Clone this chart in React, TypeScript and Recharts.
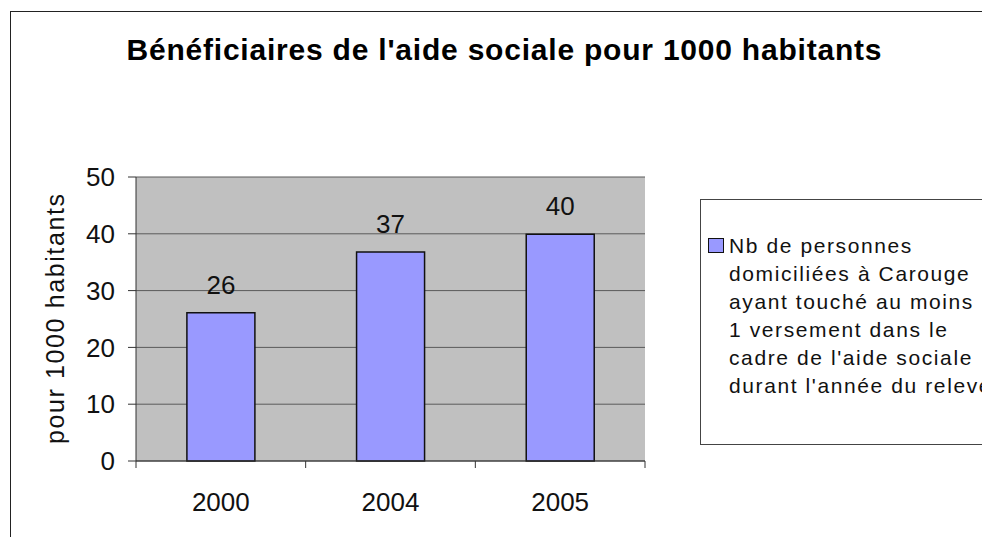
import { BarChart, Bar, XAxis, YAxis, CartesianGrid, Legend, LabelList } from 'recharts';

// values (labels are rounded)
const years = ['2000', '2004', '2005'];
const perThousand = [26.1, 36.8, 39.9];
const yTicks = [0, 10, 20, 30, 40, 50];
const legendLines = [
  'Nb de personnes',
  'domiciliées à Carouge',
  'ayant touché au moins',
  '1 versement dans le',
  "cadre de l'aide sociale",
  "durant l'année du relevé",
];
const title = "Bénéficiaires de l'aide sociale pour 1000 habitants";
const yLabel = 'pour 1000 habitants';

const chartData = years.map((year, i) => ({ year, value: perThousand[i] }));

const FONT = '"Liberation Sans", Arial, Helvetica, sans-serif';
const BAR_COLOR = '#9999ff';

const CategoryTick = (props: any) => {
  const { x, y, payload, index, visibleTicksCount, width } = props;
  const half = width / visibleTicksCount / 2;
  return (
    <g>
      <line x1={x - half} x2={x - half} y1={y} y2={y + 7} stroke="#333" />
      {index === visibleTicksCount - 1 && (
        <line x1={x + half} x2={x + half} y1={y} y2={y + 7} stroke="#333" />
      )}
      <text x={x} y={y + 50} textAnchor="middle" fontSize={26} fontFamily={FONT} fill="#111">
        {payload.value}
      </text>
    </g>
  );
};

const YLabel = (props: any) => {
  const { viewBox } = props;
  const cx = viewBox.x + 45;
  const cy = viewBox.y + viewBox.height / 2;
  return (
    <text
      x={cx}
      y={cy}
      transform={`rotate(-90, ${cx}, ${cy})`}
      textAnchor="middle"
      dominantBaseline="central"
      fontSize={25}
      fontFamily={FONT}
      fill="#111"
      textLength={250}
      lengthAdjust="spacing"
    >
      {yLabel}
    </text>
  );
};

// legend box runs off the right edge of the picture, like the reference
const LegendBox = (props: any) => {
  const item = props.payload && props.payload[0];
  const lines = String(item ? item.value : '').split('\n');
  return (
    <div
      style={{
        width: 330,
        height: 246,
        borderTop: '1px solid #444',
        borderLeft: '1px solid #444',
        borderBottom: '1px solid #444',
        boxSizing: 'border-box',
        position: 'relative',
        fontFamily: FONT,
      }}
    >
      <div
        style={{
          position: 'absolute',
          left: 7,
          top: 38,
          width: 14,
          height: 13,
          background: item ? item.color : BAR_COLOR,
          border: '1.5px solid #111',
        }}
      />
      <div
        style={{
          position: 'absolute',
          left: 28,
          top: 32,
          fontSize: 21,
          lineHeight: '28px',
          letterSpacing: 1.6,
          color: '#111',
          whiteSpace: 'pre',
        }}
      >
        {lines.map((l, i) => (
          <div key={i}>{l}</div>
        ))}
      </div>
    </div>
  );
};

export default function App() {
  return (
    <div style={{ position: 'relative', width: 982, height: 537, overflow: 'hidden', background: '#fff' }}>
      <style>{'body { margin: 0; overflow: hidden; }'}</style>
      <svg width={982} height={537} style={{ position: 'absolute', left: 0, top: 0 }}>
        <line x1={10.5} y1={11} x2={10.5} y2={540} stroke="#222" />
        <line x1={10} y1={11.5} x2={990} y2={11.5} stroke="#222" />
        <text
          x={504}
          y={60}
          textAnchor="middle"
          fontSize={30}
          fontWeight="bold"
          fontFamily={FONT}
          fill="#000"
          textLength={755}
          lengthAdjust="spacing"
        >
          {title}
        </text>
      </svg>
      <div style={{ position: 'absolute', left: 0, top: 0 }}>
        <BarChart
          width={982}
          height={537}
          data={chartData}
          margin={{ top: 177, right: 337, bottom: 0, left: 10 }}
          barCategoryGap="30%"
        >
          <CartesianGrid vertical={false} stroke="#5a5a5a" fill="#c0c0c0" fillOpacity={1} />
          <XAxis
            dataKey="year"
            height={76}
            tickLine={false}
            tickSize={0}
            tickMargin={0}
            axisLine={{ stroke: '#333' }}
            tick={<CategoryTick />}
            interval={0}
          />
          <YAxis
            width={126}
            domain={[0, 50]}
            ticks={yTicks}
            tickSize={8}
            tickMargin={13}
            axisLine={{ stroke: '#333' }}
            tickLine={{ stroke: '#333' }}
            tick={{ fontSize: 26, fontFamily: FONT, fill: '#111' }}
            label={{ content: <YLabel /> }}
          />
          <YAxis
            yAxisId="edge"
            orientation="right"
            width={0}
            domain={[0, 50]}
            tick={false}
            tickLine={false}
            axisLine={{ stroke: '#9a9a9a' }}
          />
          <Legend
            layout="horizontal"
            align="center"
            verticalAlign="middle"
            wrapperStyle={{ left: 700, top: 199, width: 330, height: 246 }}
            content={<LegendBox />}
          />
          <Bar
            dataKey="value"
            name={legendLines.join('\n')}
            fill={BAR_COLOR}
            stroke="#111"
            strokeWidth={1.5}
            legendType="square"
            isAnimationActive={false}
          >
            <LabelList
              dataKey="value"
              position="top"
              offset={19}
              formatter={(v: any) => Math.round(Number(v))}
              fontSize={26}
              fontFamily={FONT}
              fill="#111"
            />
          </Bar>
        </BarChart>
      </div>
    </div>
  );
}
